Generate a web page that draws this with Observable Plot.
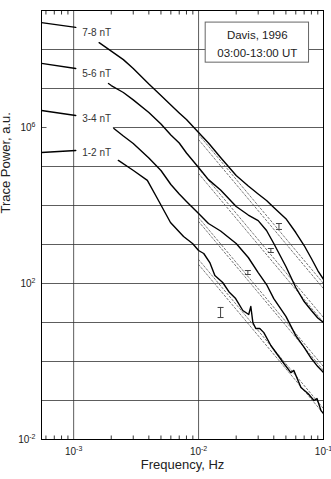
<!DOCTYPE html>
<html><head><meta charset="utf-8">
<script src="https://cdn.jsdelivr.net/npm/d3@7"></script>
<script src="https://cdn.jsdelivr.net/npm/@observablehq/plot@0.6"></script>
<style>body{margin:0;background:#fff;}</style>
</head><body><div id="chart"></div>
<script>
// ---- data ----
const curveNames = ["7-8 nT", "5-6 nT", "3-4 nT", "1-2 nT"];
const labelF = [1.17e-3, 1.17e-3, 1.17e-3, 1.17e-3];
const labelP = [2.73e8, 2.43e7, 1.70e6, 2.29e5];

// short segments at the left edge (before the labels)
const leftF = [5.53e-4, 1.04e-3];
const leftD = [4.9e8, 3.7e8];
const leftC = [4.4e7, 3.26e7];
const leftB = [2.73e6, 2.03e6];
const leftA = [2.29e5, 2.57e5];

// main spectra
const fD = [1.6e-3, 2e-3, 2.5e-3, 3e-3, 4e-3, 5e-3, 6e-3, 7e-3, 8e-3, 1e-2, 1.2e-2, 1.5e-2, 2e-2, 2.5e-2, 3e-2, 3.5e-2, 4e-2, 5e-2, 6e-2, 7e-2, 8e-2, 9e-2, 1e-1];
const pD = [1.5e8, 9.1e7, 5.5e7, 3.26e7, 1.30e7, 6.6e6, 3.8e6, 2.37e6, 1.6e6, 7.4e5, 4.0e5, 1.70e5, 5.9e4, 3.16e4, 1.97e4, 1.34e4, 8.9e3, 4.6e3, 2.03e3, 942, 438, 215, 127];
const fC = [1.9e-3, 2e-3, 2.5e-3, 3e-3, 4e-3, 5e-3, 6e-3, 7e-3, 8e-3, 1e-2, 1.2e-2, 1.5e-2, 2e-2, 2.5e-2, 3e-2, 3.5e-2, 4e-2, 5e-2, 6e-2, 7e-2, 8e-2, 9e-2, 1e-1];
const pC = [1.34e7, 1.19e7, 7.9e6, 5.1e6, 2.43e6, 1.23e6, 6.4e5, 4.0e5, 2.22e5, 9.4e4, 4.6e4, 2.5e4, 9.4e3, 5.7e3, 4.1e3, 2.29e3, 1.06e3, 273, 79, 34.5, 20.3, 13.0, 10];
const fB = [2.1e-3, 2.5e-3, 3e-3, 4e-3, 5e-3, 6e-3, 7e-3, 8e-3, 1e-2, 1.2e-2, 1.5e-2, 2e-2, 2.5e-2, 3e-2, 3.5e-2, 4e-2, 5e-2, 6e-2, 7e-2, 8e-2, 9e-2, 1e-1];
const pB = [9.4e5, 6.05e5, 3.9e5, 1.65e5, 7.9e4, 3.45e4, 1.97e4, 1.27e4, 6.2e3, 3.45e3, 2.22e3, 1.06e3, 464, 191, 94, 41, 14.3, 4.6, 2.29, 1.19, 0.74, 0.52];
const fA = [2.28e-3, 3.01e-3, 3.89e-3, 4.68e-3, 5.96e-3, 7.58e-3, 8.95e-3, 1.0e-2, 1.10e-2, 1.23e-2, 1.35e-2, 1.56e-2, 1.77e-2, 1.98e-2, 2.26e-2, 2.52e-2, 2.62e-2, 2.72e-2, 2.87e-2, 3.09e-2, 3.33e-2, 3.79e-2, 4.16e-2, 4.82e-2, 5.48e-2, 5.79e-2, 6.60e-2, 7.51e-2, 8.39e-2, 8.87e-2, 9.20e-2, 9.55e-2, 1e-1];
const pA = [1.43e5, 7.9e4, 4.4e4, 1.51e4, 3.66e3, 1.60e3, 1.06e3, 702, 588, 345, 160, 106, 58.7, 41.2, 20.3, 16.0, 25.7, 10, 7.0, 7.0, 5.5, 2.57, 1.70, 0.89, 0.52, 0.59, 0.215, 0.151, 0.1, 0.112, 0.079, 0.055, 0.046];

// dashed power-law references (two per spectrum)
const fitF = [1e-2, 1e-1];
const fitD1 = [6.6e5, 100], fitD2 = [4.9e5, 74];
const fitC1 = [8.9e4, 13.4], fitC2 = [6.6e4, 10];
const fitB1 = [4.9e3, 0.74], fitB2 = [3.9e3, 0.59];
const fitA1 = [412, 0.062], fitA2 = [307, 0.046];

// error bars
const errF = [4.4e-2, 3.79e-2, 2.48e-2, 1.50e-2];
const errLo = [2.43e3, 624, 170, 13.4];
const errHi = [3.45e3, 789, 215, 24.3];

// ticks & text
const gridY = [1e-1, 1, 1e1, 1e2, 1e3, 1e4, 1e5, 1e6, 1e7, 1e8];
const gridX = [1e-3, 1e-2];
const minorX = [6e-4, 7e-4, 8e-4, 9e-4, 2e-3, 3e-3, 4e-3, 5e-3, 6e-3, 7e-3, 8e-3, 9e-3, 2e-2, 3e-2, 4e-2, 5e-2, 6e-2, 7e-2, 8e-2, 9e-2];
const xTicks = [1e-3, 1e-2, 1e-1];
const xTickLabels = ["10^-3", "10^-2", "10^-1"];
const yTicks = [1e-2, 1e2, 1e6];
const yTickLabels = ["10^-2", "10^2", "10^6"];
const boxLines = ["Davis, 1996", "03:00-13:00 UT"];
const box = {x1: 1.14e-2, x2: 7.66e-2, y1: 4.6e7, y2: 4.9e8, tx: 2.95e-2, ty: 1.51e8};
const xTitle = "Frequency, Hz";
const yTitle = "Trace Power, a.u.";
const maskGap = {x1: 6.12e-4, x2: 2.08e-3, y: 1e6};

// ---- build tables ----
const rows = (key, f, p) => f.map((x, i) => ({key, f: x, p: p[i]}));
const curveRows = [
  ...rows("DL", leftF, leftD), ...rows("CL", leftF, leftC), ...rows("BL", leftF, leftB), ...rows("AL", leftF, leftA),
  ...rows("D", fD, pD), ...rows("C", fC, pC), ...rows("B", fB, pB), ...rows("A", fA, pA)
];
const fitRows = [
  ...rows("D1", fitF, fitD1), ...rows("D2", fitF, fitD2), ...rows("C1", fitF, fitC1), ...rows("C2", fitF, fitC2),
  ...rows("B1", fitF, fitB1), ...rows("B2", fitF, fitB2), ...rows("A1", fitF, fitA1), ...rows("A2", fitF, fitA2)
];
const errRows = errF.map((f, i) => ({f, lo: errLo[i], hi: errHi[i]}));
const capRows = errRows.flatMap(d => [{f: d.f, p: d.lo}, {f: d.f, p: d.hi}]);
const labelRows = curveNames.map((t, i) => ({t, f: labelF[i], p: labelP[i]}));

const hbar = {draw(ctx, size) { const r = Math.sqrt(size / Math.PI); ctx.moveTo(-r, 0); ctx.lineTo(r, 0); }};
const vbar = {draw(ctx, size) { const r = Math.sqrt(size / Math.PI); ctx.moveTo(0, -r); ctx.lineTo(0, r); }};

const font = "'Liberation Sans', Arial, Helvetica, sans-serif";
const chart = Plot.plot({
  width: 331, height: 479,
  marginLeft: 41, marginRight: 8, marginTop: 10, marginBottom: 40,
  style: {fontFamily: font, fontSize: "10px", color: "#222", background: "#fff", overflow: "visible"},
  x: {type: "log", domain: [5.53e-4, 0.1], axis: null},
  y: {type: "log", domain: [1e-2, 1e9], axis: null},
  marks: [
    Plot.ruleY(gridY, {stroke: "#333", strokeWidth: 0.8}),
    Plot.ruleY([maskGap], {y: "y", x1: "x1", x2: "x2", stroke: "#fff", strokeWidth: 2}),
    Plot.ruleX(gridX, {stroke: "#333", strokeWidth: 0.8}),
    Plot.dot(minorX, {x: d => d, frameAnchor: "bottom", dy: -2, symbol: vbar, r: 2, fill: "none", stroke: "#000", strokeWidth: 0.8}),
    Plot.dot(minorX, {x: d => d, frameAnchor: "top", dy: 2, symbol: vbar, r: 2, fill: "none", stroke: "#000", strokeWidth: 0.8}),
    Plot.line(fitRows, {x: "f", y: "p", z: "key", stroke: "#555", strokeWidth: 0.8, strokeDasharray: "2,2", clip: true}),
    Plot.line(curveRows, {x: "f", y: "p", z: "key", stroke: "#000", strokeWidth: 1.4, clip: true}),
    Plot.ruleX(errRows, {x: "f", y1: "lo", y2: "hi", stroke: "#444", strokeWidth: 1}),
    Plot.dot(capRows, {x: "f", y: "p", symbol: hbar, r: 3, fill: "none", stroke: "#444", strokeWidth: 1}),
    Plot.rect([box], {x1: "x1", x2: "x2", y1: "y1", y2: "y2", fill: "#fff", stroke: "#666", strokeWidth: 1}),
    Plot.text([boxLines.join("\n")], {x: () => box.tx, y: () => box.ty, fontSize: 11.5, lineHeight: 1.55, fill: "#222"}),
    Plot.text(labelRows, {x: "f", y: "p", text: "t", textAnchor: "start", fontSize: 10, fill: "#333"}),
    Plot.text(xTicks, {x: d => d, text: (d, i) => xTickLabels[i], frameAnchor: "bottom", dy: 15.8, fontSize: 10, fill: "#222"}),
    Plot.text(yTicks, {y: d => d, text: (d, i) => yTickLabels[i], frameAnchor: "left", dx: -6, textAnchor: "end", fontSize: 10, fill: "#222"}),
    Plot.text([xTitle], {frameAnchor: "bottom", dy: 29.8, fontSize: 13, fill: "#222"}),
    Plot.text([yTitle], {frameAnchor: "left", dx: -35.2, dy: -11.5, rotate: -90, fontSize: 13, fill: "#222"}),
    Plot.frame({stroke: "#000", strokeWidth: 1})
  ]
});

// superscripts for powers of ten
chart.querySelectorAll("text").forEach(t => {
  const m = /^10\^(-?\d+)$/.exec(t.textContent);
  if (!m) return;
  t.textContent = "10";
  const s = document.createElementNS("http://www.w3.org/2000/svg", "tspan");
  s.setAttribute("dy", "-4");
  s.setAttribute("font-size", "7");
  s.textContent = m[1];
  t.appendChild(s);
});
document.getElementById("chart").appendChild(chart);
</script></body></html>
